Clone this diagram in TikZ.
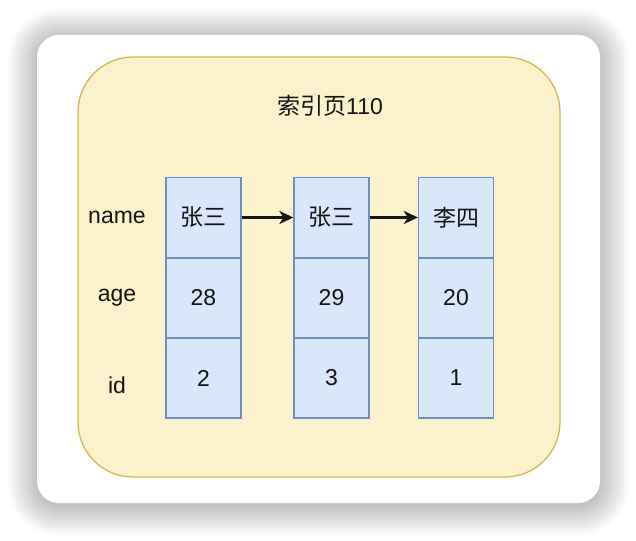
\documentclass[tikz,border=0pt]{standalone}
\usepackage{fontspec}
\setmainfont{Liberation Sans}
\newfontfamily\cjk{Noto Sans CJK SC}
\usetikzlibrary{arrows.meta}

\definecolor{pagefill}{HTML}{FCF1CD}
\definecolor{pageline}{HTML}{D6B656}
\definecolor{cellfill}{HTML}{DAE6FA}
\definecolor{cellline}{HTML}{6C8EBF}
\definecolor{ink}{HTML}{141414}

\tikzset{
  cell/.style={draw=cellline, fill=cellfill, line width=1.3pt, minimum width=75pt,
    minimum height=80pt, inner sep=0pt, font=\fontsize{23}{25}\selectfont, text=ink},
  lbl/.style={font=\fontsize{23}{25}\selectfont, text=ink},
  link/.style={-{Stealth[length=14pt,width=13pt,inset=4pt]}, line width=2.2pt, draw=ink}
}

\begin{document}
\begin{tikzpicture}[x=1pt,y=-1pt]
  \useasboundingbox (0,0) rectangle (636,540);
  \fill[white] (0,0) rectangle (636,540);
  % soft shadow round the card
  \foreach \s in {1,...,30}
    \fill[black, opacity=0.006, rounded corners=22pt+\s pt]
      (37-\s,38-\s) rectangle (600+\s,506+\s);
  \fill[white, rounded corners=22pt] (37,35) rectangle (600,503);
  % index page
  \draw[pageline, fill=pagefill, line width=1.3pt, rounded corners=55pt] (78,57) rectangle (560,477);
  \node[lbl] (title) at (330,106) {{\cjk 索引页}110};

  \node[lbl] (lname) at (117,217) {name};
  \node[lbl] (lage) at (117,298) {age};
  \node[lbl] (lid) at (117,385) {id};

  \node[cell] (n1) at (203.5,217.5) {\cjk 张三};
  \node[cell] (a1) at (203.5,298) {28};
  \node[cell] (i1) at (203.5,378) {2};

  \node[cell] (n2) at (331.5,217.5) {\cjk 张三};
  \node[cell] (a2) at (331.5,298) {29};
  \node[cell] (i2) at (331.5,378) {3};

  \node[cell] (n3) at (456,217.5) {\cjk 李四};
  \node[cell] (a3) at (456,298) {20};
  \node[cell] (i3) at (456,378) {1};

  \draw[link] (n1) -- (n2);
  \draw[link] (n2) -- (n3);
\end{tikzpicture}
\end{document}
